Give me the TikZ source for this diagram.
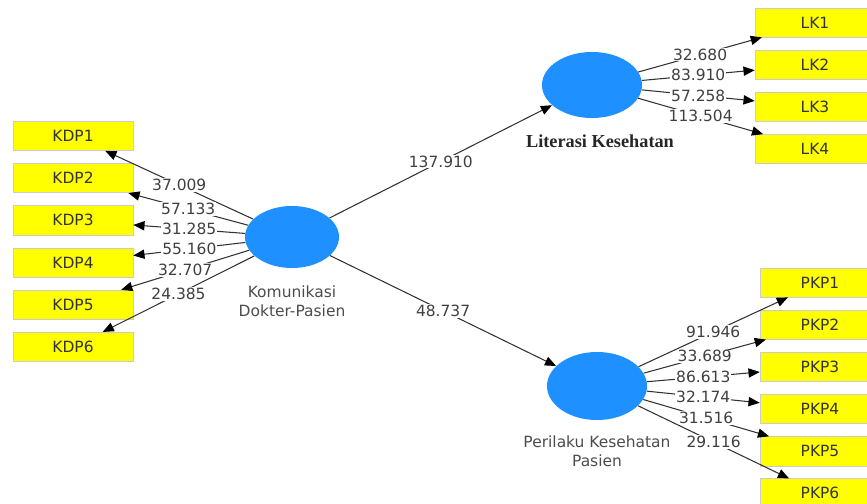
\documentclass[tikz,border=0pt]{standalone}
\usepackage{fontspec}
\setmainfont{DejaVu Sans}
\newfontfamily\lkfont{Liberation Serif}
\usetikzlibrary{positioning,shapes.geometric,arrows.meta}
\definecolor{lvblue}{RGB}{30,144,255}
\definecolor{mvyellow}{RGB}{255,255,0}
\definecolor{edgegray}{RGB}{50,50,50}
\tikzset{
  latent/.style={ellipse, fill=lvblue, inner sep=0pt, minimum width=2.5cm, minimum height=1.65cm},
  obs/.style={rectangle, fill=mvyellow, draw=black!20, line width=0.4pt, minimum width=3cm,
    minimum height=0.73cm, inner sep=0pt, font=\fontsize{11}{13}\selectfont, text=black!80},
  edge/.style={-{Triangle[length=2.8mm,width=2.3mm,black]}, draw=edgegray, line width=0.75pt},
  wt/.style={fill=white, inner sep=0.6pt, font=\fontsize{11}{13}\selectfont, text=black!75},
  lvname/.style={align=center, inner sep=0pt, font=\fontsize{11}{13.5}\selectfont, text=black!70},
}
\begin{document}
\begin{tikzpicture}[x=0.025cm, y=-0.025cm, node distance=0.31cm]
	\clip (0,0) rectangle (867,504);
	% Latent variables
	\node[latent, minimum width=2.35cm, minimum height=1.55cm] (KDP) at (292,237) {} ;
	\node[latent] (LK) at (592,85) {} ;
	\node[latent, minimum height=1.7cm] (PKP) at (597,386) {} ;
	\node[lvname, below=0.42cm of KDP] (KDPname) {Komunikasi\\Dokter-Pasien} ;
	\node[lvname, below=0.4cm of LK, xshift=0.2cm, font=\lkfont\bfseries\fontsize{13}{15}\selectfont, text=black!85] (LKname) {Literasi Kesehatan} ;
	\node[lvname, below=0.38cm of PKP] (PKPname) {Perilaku Kesehatan\\Pasien} ;
	%%%%% Komunikasi Dokter-Pasien
	\node[obs] (KDP1) at (73,136) {KDP1} ;
	\node[obs, below=of KDP1] (KDP2) {KDP2} ;
	\node[obs, below=of KDP2] (KDP3) {KDP3} ;
	\node[obs, below=of KDP3] (KDP4) {KDP4} ;
	\node[obs, below=of KDP4] (KDP5) {KDP5} ;
	\node[obs, below=of KDP5] (KDP6) {KDP6} ;
	%%%%% Literasi Kesehatan
	\node[obs] (LK1) at (815,22.5) {LK1} ;
	\node[obs, below=of LK1] (LK2) {LK2} ;
	\node[obs, below=of LK2] (LK3) {LK3} ;
	\node[obs, below=of LK3] (LK4) {LK4} ;
	%%%%% Perilaku Kesehatan Pasien
	\node[obs] (PKP1) at (820,282.5) {PKP1} ;
	\node[obs, below=of PKP1] (PKP2) {PKP2} ;
	\node[obs, below=of PKP2] (PKP3) {PKP3} ;
	\node[obs, below=of PKP3] (PKP4) {PKP4} ;
	\node[obs, below=of PKP4] (PKP5) {PKP5} ;
	\node[obs, below=of PKP5] (PKP6) {PKP6} ;
	% Inner model
	\draw[edge] (KDP) -- node[wt] {137.910} (LK) ;
	\draw[edge] (KDP) -- node[wt] {48.737} (PKP) ;
	% Outer loadings
	\draw[edge] (KDP) -- node[wt] {37.009} (KDP1) ;
	\draw[edge] (KDP) -- node[wt] {57.133} (KDP2) ;
	\draw[edge] (KDP) -- node[wt] {31.285} (KDP3) ;
	\draw[edge] (KDP) -- node[wt] {55.160} (KDP4) ;
	\draw[edge] (KDP) -- node[wt] {32.707} (KDP5) ;
	\draw[edge] (KDP) -- node[wt] {24.385} (KDP6) ;
	\draw[edge] (LK) -- node[wt] {32.680} (LK1) ;
	\draw[edge] (LK) -- node[wt] {83.910} (LK2) ;
	\draw[edge] (LK) -- node[wt] {57.258} (LK3) ;
	\draw[edge] (LK) -- node[wt] {113.504} (LK4) ;
	\draw[edge] (PKP) -- node[wt] {91.946} (PKP1) ;
	\draw[edge] (PKP) -- node[wt] {33.689} (PKP2) ;
	\draw[edge] (PKP) -- node[wt] {86.613} (PKP3) ;
	\draw[edge] (PKP) -- node[wt] {32.174} (PKP4) ;
	\draw[edge] (PKP) -- node[wt] {31.516} (PKP5) ;
	\draw[edge] (PKP) -- node[wt] {29.116} (PKP6) ;
\end{tikzpicture}
\end{document}
